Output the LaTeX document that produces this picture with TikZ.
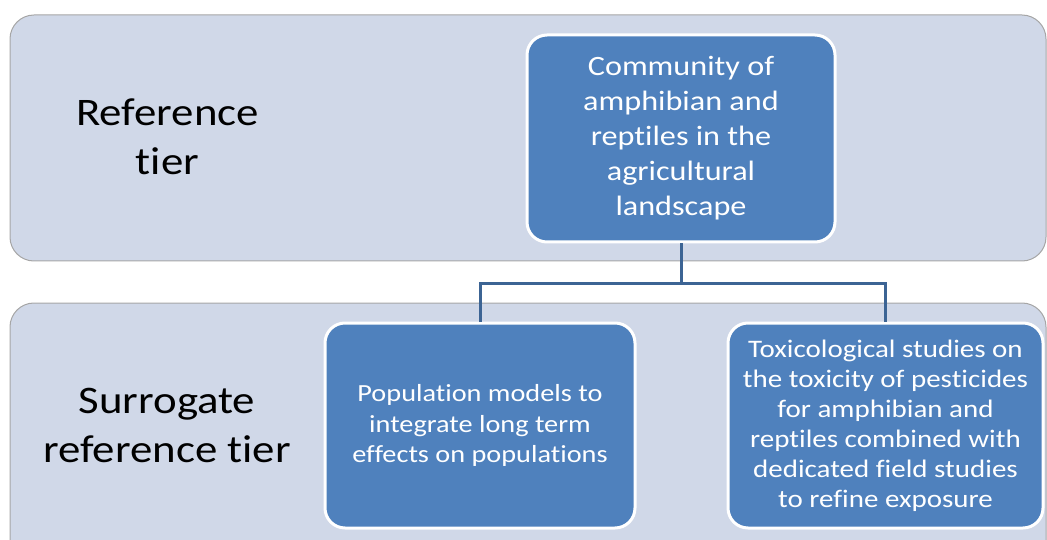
\documentclass[tikz,border=0pt]{standalone}
\usepackage{fontspec}
\setmainfont{Carlito}[Ligatures=NoCommon, FakeStretch=1.15]
\definecolor{bandfill}{HTML}{D0D8E8}
\definecolor{bandline}{HTML}{A6A6A6}
\definecolor{boxfill}{HTML}{4F81BD}
\definecolor{linkcol}{HTML}{3C6494}
\tikzset{
  band/.style={draw=bandline, line width=1pt, fill=bandfill, rounded corners=24pt},
  tierlabel/.style={align=center, text=black, font=\fontsize{39}{49}\selectfont},
  bluebox/.style={draw=white, line width=3pt, fill=boxfill, rounded corners=20pt,
    text=white, align=center, inner sep=0pt},
  link/.style={draw=linkcol, line width=3pt}
}
\begin{document}
\begin{tikzpicture}[x=1pt, y=-1pt]
  \useasboundingbox (0,0) rectangle (1047,540);
  % tier bands
  \draw[band] (10,15) rectangle (1046,261);
  \draw[band] (10,303) rectangle (1046,580);
  % tier labels
  \node[tierlabel] (lref) at (167.5,137) {Reference\\tier};
  \node[tierlabel] (lsur) at (167,425) {Surrogate\\reference tier};
  % boxes
  \node[bluebox, minimum width=308pt, minimum height=207pt,
    font=\fontsize{28}{35}\selectfont] (top) at (681,138.5)
    {Community of\\amphibian and\\reptiles in the\\agricultural\\landscape};
  \node[bluebox, minimum width=310pt, minimum height=205pt,
    font=\fontsize{24.6}{30.5}\selectfont] (left) at (480,425.5)
    {Population models to\\integrate long term\\effects on populations};
  \node[bluebox, minimum width=315pt, minimum height=205pt,
    font=\fontsize{25.2}{30}\selectfont] (right) at (885.5,425.5)
    {Toxicological studies on\\the toxicity of pesticides\\for amphibian and\\reptiles combined with\\dedicated field studies\\to refine exposure};
  % connectors
  \coordinate (mid) at (top.south |- 0,283);
  \draw[link] (top.south) -- (mid);
  \draw[link] (mid) -| (left.north);
  \draw[link] (mid) -| (right.north);
\end{tikzpicture}
\end{document}
